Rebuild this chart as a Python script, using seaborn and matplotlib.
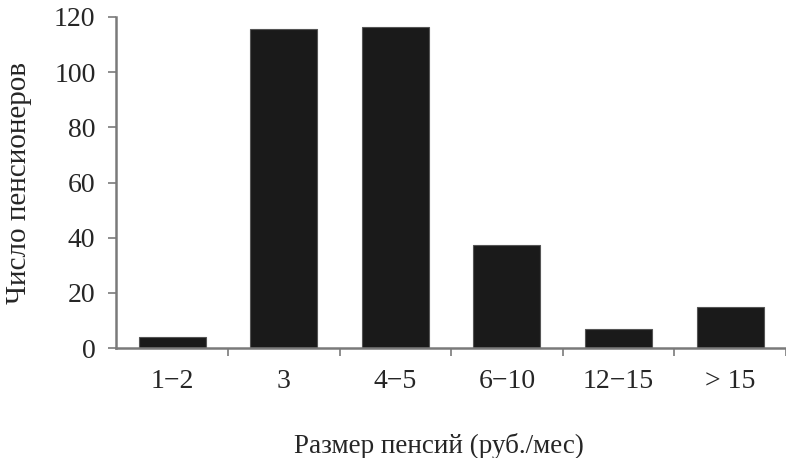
import matplotlib
matplotlib.use("Agg")
import matplotlib.pyplot as plt
import seaborn as sns
import pandas as pd

categories = ["1\u22122", "3", "4\u22125", "6\u221210", "12\u221215", "> 15"]
values = [4, 115.5, 116.5, 37.5, 7, 15]
yticks = [0, 20, 40, 60, 80, 100, 120]

sns.set_theme(style="white")
plt.rcParams['font.family'] = ['Liberation Serif', 'DejaVu Serif']

fig = plt.figure(figsize=(7.86, 4.58), dpi=100)
ax = fig.add_axes([0.148, 0.24, 0.852, 0.723])

df = pd.DataFrame({"cat": categories, "val": values})
sns.barplot(data=df, x="cat", y="val", color="#1a1a1a", saturation=1,
            width=0.6, edgecolor="#555555", linewidth=0.8, ax=ax)

ax.set_xlim(-0.5, 5.43)
ax.set_ylim(0, 120)
ax.set_yticks(yticks)
ax.set_yticklabels([str(t) for t in yticks])
ax.set_xticks(range(len(categories)))
ax.set_xticklabels(categories)
ax.set_xticks([i + 0.5 for i in range(len(categories))], minor=True)

spine_color = "#7a7a7a"
for s in ["top", "right"]:
    ax.spines[s].set_visible(False)
for s in ["left", "bottom"]:
    ax.spines[s].set_color(spine_color)
    ax.spines[s].set_linewidth(1.8)

ax.tick_params(axis="y", which="major", direction="out", length=6, width=1.2,
               color=spine_color, labelsize=20, pad=9, left=True)
ax.tick_params(axis="x", which="major", length=0, labelsize=20, pad=15)
ax.tick_params(axis="x", which="minor", direction="out", length=6, width=1.2,
               color=spine_color, bottom=True)

ax.set_xlabel("Размер пенсий (руб./мес)", fontsize=19.5)
ax.xaxis.set_label_coords(0.482, -0.255)
ax.set_ylabel("Число пенсионеров", fontsize=21, labelpad=16)

fig.savefig("out.png", dpi=100)
